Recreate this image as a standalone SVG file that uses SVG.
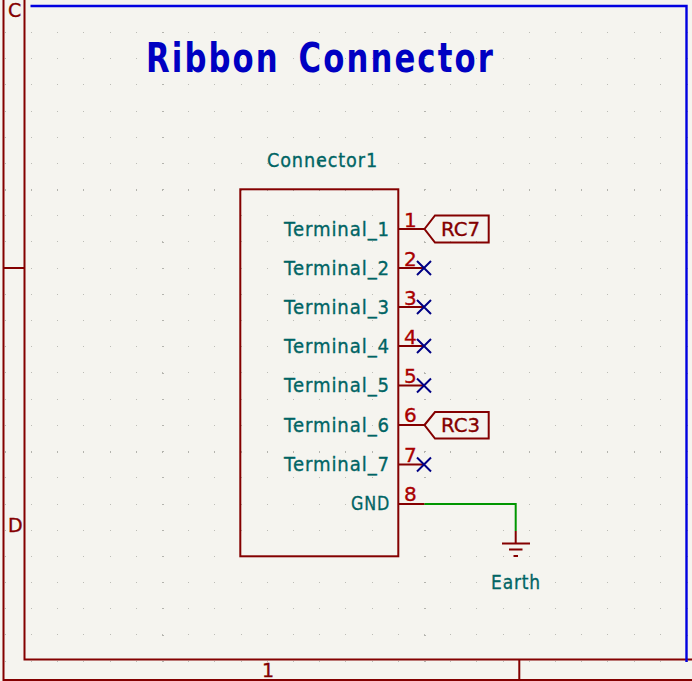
<svg xmlns="http://www.w3.org/2000/svg" width="692" height="681" viewBox="0 0 692 681">
<style>
text{font-family:"DejaVu Sans","Liberation Sans",sans-serif;stroke-width:.35}
.dots{stroke:#bcbcb6;stroke-width:1;stroke-dasharray:1 25.2;fill:none;shape-rendering:crispEdges}
.majr{stroke:#b4b4ae;stroke-width:2;stroke-dasharray:1 25.2;fill:none;shape-rendering:crispEdges}
.majc{stroke:#b4b4ae;stroke-width:2;stroke-dasharray:1 25.2;fill:none;shape-rendering:crispEdges}
.frame{stroke:#840000;stroke-width:2;fill:none}
.blue{stroke:#0000e0;stroke-width:2.4;fill:none}
.sym{stroke:#840000;stroke-width:2;fill:none}
.x{stroke:#000084;stroke-width:2;fill:none}
.wire{stroke:#009600;stroke-width:2;fill:none}
.fr{fill:#840000;stroke:#840000;font-size:19px}
.ref{fill:#006464;stroke:#006464;font-size:20px}
.num{fill:#a90000;stroke:#a90000;font-size:20px}
.lab{fill:#840000;stroke:#840000;font-size:20px}
</style>
<rect width="692" height="681" fill="#f5f4ef"/>
<g id="grid">
<path class="dots" d="M4.800 32.500H692M4.800 58.500H692M4.800 84.500H692M4.800 111.500H692M4.800 137.500H692M4.800 163.500H692M4.800 215.500H692M4.800 241.500H692M4.800 268.500H692M4.800 294.500H692M4.800 320.500H692M4.800 346.500H692M4.800 372.500H692M4.800 399.500H692M4.800 425.500H692M4.800 477.500H692M4.800 504.500H692M4.800 530.500H692M4.800 556.500H692M4.800 582.500H692M4.800 608.500H692M4.800 634.500H692M4.800 661.500H692"/>
<path class="majr" d="M4.800 189.500H692M4.800 451.500H692"/>
<path class="majc" d="M162.500 32V670M424.500 32V670M686.500 32V670"/>
</g>
<g id="sheet-frame">
<path class="frame" d="M3.500 0V680H692M24.500 0V659.500H692M3.500 268H24.500M519.300 659.500V680"/>
<path class="blue" d="M30.500 6H686.500V662"/>
<text class="fr" x="8" y="17">C</text>
<text class="fr" x="8" y="532">D</text>
<text class="fr" x="262" y="677">1</text>
</g>
<text id="title" transform="translate(146 72) scale(.75 1)" fill="#0000c2" font-size="41" font-weight="bold" letter-spacing="2.800" word-spacing="8">Ribbon Connector</text>
<g id="connectors">
<path class="wire" d="M424.300 504H515.700V531"/>
</g>
<g id="Connector1">
<rect class="sym" x="240.300" y="189.300" width="158" height="367"/>
<path class="sym" d="M398.300 229H424.300M398.300 268H424.300M398.300 307H424.300M398.300 346H424.300M398.300 385.500H424.300M398.300 425H424.300M398.300 464.500H424.300M398.300 504H424.300"/>
<text class="ref" x="267" y="167" textLength="111" lengthAdjust="spacingAndGlyphs" letter-spacing="1">Connector1</text>
<circle cx="319" cy="163" r="1.500" fill="#006464"/>
<text class="ref" x="284" y="236" textLength="106" lengthAdjust="spacingAndGlyphs" letter-spacing="1">Terminal_1</text>
<text class="ref" x="284" y="275" textLength="106" lengthAdjust="spacingAndGlyphs" letter-spacing="1">Terminal_2</text>
<text class="ref" x="284" y="314" textLength="106" lengthAdjust="spacingAndGlyphs" letter-spacing="1">Terminal_3</text>
<text class="ref" x="284" y="353" textLength="106" lengthAdjust="spacingAndGlyphs" letter-spacing="1">Terminal_4</text>
<text class="ref" x="284" y="392" textLength="106" lengthAdjust="spacingAndGlyphs" letter-spacing="1">Terminal_5</text>
<text class="ref" x="284" y="432" textLength="106" lengthAdjust="spacingAndGlyphs" letter-spacing="1">Terminal_6</text>
<text class="ref" x="284" y="471" textLength="106" lengthAdjust="spacingAndGlyphs" letter-spacing="1">Terminal_7</text>
<text class="ref" x="351" y="510" textLength="39" lengthAdjust="spacingAndGlyphs" letter-spacing="1">GND</text>
<text class="num" x="404" y="227">1</text>
<text class="num" x="404" y="266">2</text>
<text class="num" x="404" y="305">3</text>
<text class="num" x="404" y="344">4</text>
<text class="num" x="404" y="383">5</text>
<text class="num" x="404" y="422">6</text>
<text class="num" x="404" y="462">7</text>
<text class="num" x="404" y="501">8</text>
</g>
<g id="no-connects">
<path class="x" d="M417 261L431 275M431 261L417 275M417 300L431 314M431 300L417 314M417 339L431 353M431 339L417 353M417 378.500L431 392.500M431 378.500L417 392.500M417 457.500L431 471.500M431 457.500L417 471.500"/>
</g>
<g id="label-RC7">
<path class="sym" d="M424.500 229L435 215.500H488.700V242.500H435Z"/>
<text class="lab" x="441" y="236" textLength="39" lengthAdjust="spacingAndGlyphs">RC7</text>
</g>
<g id="label-RC3">
<path class="sym" d="M424.500 425L435 412H488.700V438.500H435Z"/>
<text class="lab" x="441" y="432" textLength="39" lengthAdjust="spacingAndGlyphs">RC3</text>
</g>
<g id="Earth">
<path class="sym" d="M515.700 531V543M502 543.500H530M509 549.500H522.500M513.500 556H518"/>
<text class="ref" x="491" y="589" textLength="50" lengthAdjust="spacingAndGlyphs" letter-spacing="1">Earth</text>
</g>
</svg>
